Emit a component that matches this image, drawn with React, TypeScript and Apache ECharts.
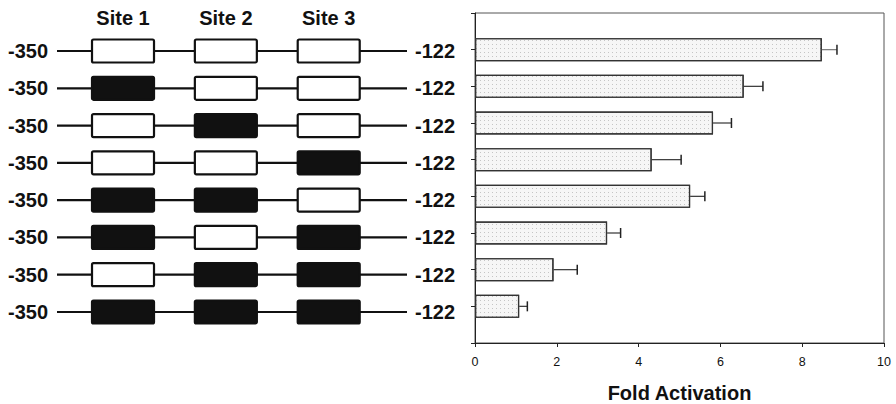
import React, { useEffect, useRef } from "react";
import * as echarts from "echarts";

// ---- data ----
const constructs = ["WT", "M1", "M2", "M3", "M12", "M13", "M23", "M123"];
const siteNames = ["Site 1", "Site 2", "Site 3"];
const sitePositions = [-307, -240, -173];
const site1Mutated = [0, 1, 0, 0, 1, 1, 0, 1];
const site2Mutated = [0, 0, 1, 0, 1, 0, 1, 1];
const site3Mutated = [0, 0, 0, 1, 0, 1, 1, 1];
const promoterStart = -350;
const promoterEnd = -122;
const foldActivation = [8.48, 6.57, 5.82, 4.32, 5.26, 3.23, 1.92, 1.08];
const foldError = [0.37, 0.47, 0.45, 0.72, 0.36, 0.33, 0.58, 0.2];
const xMin = 0;
const xMax = 10;
const xInterval = 2;

const FONT = "'Liberation Sans', Arial, Helvetica, sans-serif";

export default function App() {
  const ref = useRef<HTMLDivElement>(null);

  useEffect(() => {
    if (!ref.current) return;
    const chart = echarts.init(ref.current, undefined, { renderer: "svg" });
    const yCats = ["padTop", ...constructs, "padBottom"];
    const mutated = [site1Mutated, site2Mutated, site3Mutated];
    const isPad = (i: number) => i === 0 || i === yCats.length - 1;

    const option: any = {
      animation: false,
      backgroundColor: "#ffffff",
      grid: [
        {
          left: 57,
          width: 350,
          top: 13.7,
          height: 335.6,
          containLabel: false,
          outerBoundsMode: "none",
        },
        {
          left: 475,
          right: 12,
          top: 13,
          bottom: 61,
          show: true,
          borderColor: "#555",
          borderWidth: 1,
          containLabel: false,
          outerBoundsMode: "none",
        },
      ],
      xAxis: [
        {
          gridIndex: 0,
          type: "value",
          min: promoterStart,
          max: promoterEnd,
          show: false,
        },
        {
          gridIndex: 1,
          type: "value",
          min: xMin,
          max: xMax,
          interval: xInterval,
          name: "Fold Activation",
          nameLocation: "middle",
          nameGap: 40,
          nameTextStyle: {
            fontFamily: FONT,
            fontWeight: "bold",
            fontSize: 20,
            color: "#111",
          },
          axisLine: { show: true, lineStyle: { color: "#222", width: 1 } },
          axisTick: { show: true, length: 4, lineStyle: { color: "#222" } },
          axisLabel: {
            fontFamily: FONT,
            fontSize: 12.5,
            color: "#111",
            margin: 12,
          },
          splitLine: { show: false },
        },
      ],
      yAxis: [
        {
          gridIndex: 0,
          type: "category",
          data: yCats,
          inverse: true,
          boundaryGap: false,
          position: "left",
          axisLine: { show: false },
          axisTick: { show: false },
          splitLine: { show: false },
          axisLabel: {
            interval: 0,
            margin: 9,
            fontFamily: FONT,
            fontWeight: "bold",
            fontSize: 20,
            color: "#111",
            formatter: (_v: string, i: number) =>
              isPad(i) ? "" : String(promoterStart),
          },
        },
        {
          gridIndex: 0,
          type: "category",
          data: yCats,
          inverse: true,
          boundaryGap: false,
          position: "right",
          axisLine: { show: false },
          axisTick: { show: false },
          splitLine: { show: false },
          axisLabel: {
            interval: 0,
            margin: 8,
            fontFamily: FONT,
            fontWeight: "bold",
            fontSize: 20,
            color: "#111",
            formatter: (_v: string, i: number) =>
              isPad(i) ? "" : String(promoterEnd),
          },
        },
        {
          gridIndex: 1,
          type: "category",
          data: yCats,
          inverse: true,
          boundaryGap: false,
          axisLine: { show: true, lineStyle: { color: "#222", width: 1 } },
          axisTick: {
            show: true,
            interval: 0,
            length: 4,
            lineStyle: { color: "#222" },
          },
          axisLabel: { show: false },
          splitLine: { show: false },
        },
      ],
      series: [
        {
          type: "custom",
          name: "constructs",
          xAxisIndex: 0,
          yAxisIndex: 0,
          encode: { x: 0, y: 1 },
          data: constructs.map((c) => [promoterStart, c]),
          renderItem: (params: any, api: any) => {
            const idx = params.dataIndex + 1;
            const p0 = api.coord([promoterStart, idx]);
            const p1 = api.coord([promoterEnd, idx]);
            const children: any[] = [
              {
                type: "line",
                shape: { x1: p0[0], y1: p0[1], x2: p1[0], y2: p1[1] },
                style: { stroke: "#111", lineWidth: 2.2 },
              },
            ];
            sitePositions.forEach((pos, k) => {
              const c = api.coord([pos, idx]);
              const filled = mutated[k][params.dataIndex] === 1;
              children.push({
                type: "rect",
                shape: { x: c[0] - 31, y: c[1] - 11.5, width: 62, height: 23, r: 1.5 },
                style: {
                  fill: filled ? "#111" : "#ffffff",
                  stroke: "#111",
                  lineWidth: 2.2,
                },
              });
            });
            return { type: "group", children };
          },
        },
        {
          type: "custom",
          name: "sites",
          xAxisIndex: 0,
          yAxisIndex: 0,
          encode: { x: 0, y: 1 },
          data: siteNames.map((s, i) => [sitePositions[i], yCats[0], s]),
          renderItem: (params: any, api: any) => {
            const c = api.coord([sitePositions[params.dataIndex], 0]);
            return {
              type: "text",
              style: {
                text: siteNames[params.dataIndex],
                x: c[0],
                y: c[1] + 4,
                align: "center",
                verticalAlign: "middle",
                fontFamily: FONT,
                fontWeight: "bold",
                fontSize: 20,
                fill: "#111",
              },
            };
          },
        },
        {
          type: "bar",
          name: "Fold Activation",
          xAxisIndex: 1,
          yAxisIndex: 2,
          barWidth: 23,
          data: constructs.map((c, i) => [foldActivation[i], c]),
          itemStyle: {
            color: "#f6f6f6",
            borderColor: "#333",
            borderWidth: 1.2,
            decal: {
              symbol: "rect",
              symbolSize: 1,
              color: "rgba(0,0,0,0.2)",
              dashArrayX: [1, 3],
              dashArrayY: [1, 3],
              rotation: 0,
            },
          },
        },
        {
          type: "custom",
          name: "error",
          xAxisIndex: 1,
          yAxisIndex: 2,
          encode: { x: 0, y: 1 },
          data: constructs.map((c, i) => [foldActivation[i], c, foldError[i]]),
          z: 5,
          renderItem: (params: any, api: any) => {
            const i = params.dataIndex;
            const idx = i + 1;
            const a = api.coord([foldActivation[i], idx]);
            const b = api.coord([foldActivation[i] + foldError[i], idx]);
            return {
              type: "group",
              children: [
                {
                  type: "line",
                  shape: { x1: a[0], y1: a[1], x2: b[0], y2: b[1] },
                  style: { stroke: i === 0 ? "#777" : "#333", lineWidth: 1.2 },
                },
                {
                  type: "line",
                  shape: { x1: b[0], y1: b[1] - 5, x2: b[0], y2: b[1] + 5 },
                  style: { stroke: "#222", lineWidth: 1.5 },
                },
              ],
            };
          },
        },
      ],
    };

    chart.setOption(option);
    return () => chart.dispose();
  }, []);

  return (
    <div
      ref={ref}
      style={{ position: "absolute", left: 0, top: 0, width: 896, height: 404 }}
    />
  );
}
